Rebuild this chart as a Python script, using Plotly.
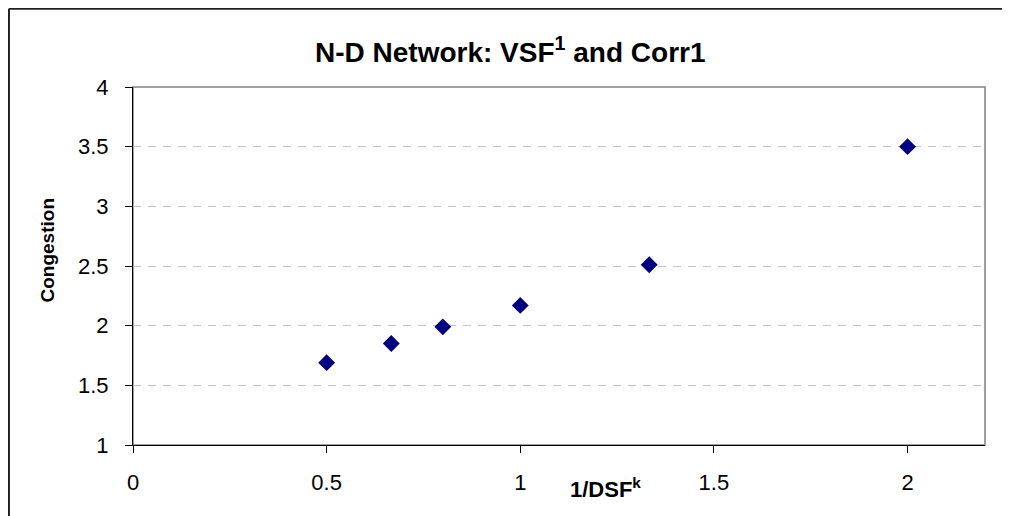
import plotly.graph_objects as go

x_vals = [0.5, 0.667, 0.8, 1.0, 1.333, 2.0]
y_vals = [1.69, 1.85, 1.99, 2.17, 2.51, 3.5]

title_text = "N-D Network: VSF<sup>1</sup> and Corr1"
x_title = "1/DSF<sup>k</sup>"
y_title = "Congestion"

# page offset of the figure div (default body margin)
OFF = 8
W, H = 1010, 516
L, R, T, B = 133.3 - OFF, 985 - OFF, 87.3 - OFF, 445 - OFF
pw, ph = R - L, B - T


def px(x):
    return (x - OFF - L) / pw


def py(y):
    return (B - (y - OFF)) / ph


fig = go.Figure()
fig.add_trace(go.Scatter(
    x=x_vals, y=y_vals, mode="markers",
    marker=dict(symbol="diamond", size=13, color="#000080",
                line=dict(width=0)),
    showlegend=False, cliponaxis=False,
))

font = "Liberation Sans, Arial, sans-serif"
fig.update_layout(
    width=W, height=H,
    margin=dict(l=L, r=W - R, t=T, b=H - B),
    paper_bgcolor="white", plot_bgcolor="white",
    font=dict(family=font, color="black"),
    xaxis=dict(range=[0, 2.2], dtick=0.5, tick0=0, showgrid=False, zeroline=False,
               showline=True, linecolor="black", linewidth=1,
               ticks="outside", ticklen=7, tickcolor="black",
               tickfont=dict(size=22, family=font), ticklabelstandoff=11),
    yaxis=dict(range=[1, 4], dtick=0.5, tick0=1, showgrid=True,
               gridcolor="#c4c4c4", griddash="8px,7px", gridwidth=1, zeroline=False,
               showline=True, linecolor="black", linewidth=1,
               ticks="outside", ticklen=7, tickcolor="black",
               tickfont=dict(size=22, family=font), ticklabelstandoff=12),
    shapes=[
        dict(type="rect", xref="paper", yref="paper", x0=0, x1=1, y0=0, y1=1,
             line=dict(color="#808080", width=1.5), layer="below"),
        dict(type="line", xref="paper", yref="paper", x0=px(9.3), x1=px(1030),
             y0=py(9), y1=py(9), line=dict(color="#202020", width=2)),
        dict(type="line", xref="paper", yref="paper", x0=px(9.3), x1=px(9.3),
             y0=py(9), y1=py(540), line=dict(color="#202020", width=2)),
    ],
    annotations=[
        dict(text="<b>" + title_text + "</b>", xref="paper", yref="paper",
             x=px(511), y=py(50), xanchor="center", yanchor="middle",
             showarrow=False, font=dict(size=28, family=font)),
        dict(text="<b>" + x_title + "</b>", xref="paper", yref="paper",
             x=px(606), y=py(488), xanchor="center", yanchor="middle",
             showarrow=False, font=dict(size=22, family=font)),
        dict(text="<b>" + y_title + "</b>", xref="paper", yref="paper",
             x=px(48), y=py(250), xanchor="center", yanchor="middle",
             textangle=-90, showarrow=False, font=dict(size=19, family=font)),
    ],
)

fig.write_html("out.html")
